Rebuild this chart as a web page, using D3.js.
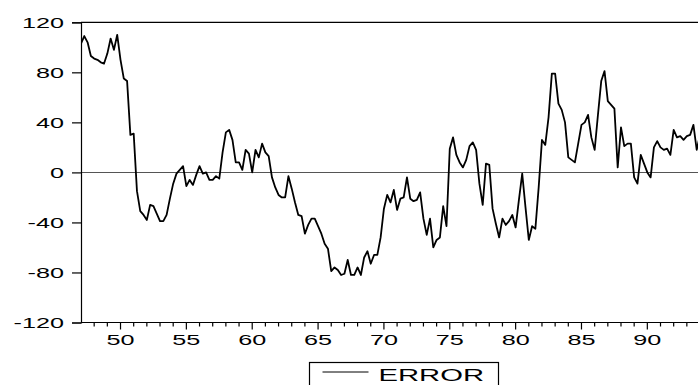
<!DOCTYPE html>
<html>
<head>
<meta charset="utf-8">
<script src="https://cdn.jsdelivr.net/npm/d3@7"></script>
<style>
  body { margin: 0; background: #fff; }
  svg { display: block; }
  text { font-family: Arial, "Liberation Sans", Helvetica, sans-serif; fill: #000; }
</style>
</head>
<body>
<div id="chart"></div>
<script>
// quarterly observations, 1947Q1 onward
const startYear = 1947;
const error1940s = [103, 109, 104, 93, 91, 90, 88, 87, 95, 107, 98, 110];
const error1950s = [90, 75, 73, 30, 31, -15, -31, -34, -38, -26,
                    -27, -33, -39, -39, -34, -21, -9, -1, 2, 5,
                    -11, -6, -10, -2, 5, -1, 0, -6, -6, -3,
                    -5, 16, 32, 34, 26, 8, 8, 2, 18, 15];
const error1960s = [0, 18, 12, 23, 16, 13, -4, -12, -18, -20,
                    -20, -3, -13, -24, -34, -35, -49, -42, -37, -37,
                    -43, -49, -57, -61, -79, -76, -78, -82, -81, -70,
                    -82, -82, -76, -82, -68, -63, -73, -66, -66, -52];
const error1970s = [-29, -18, -24, -14, -30, -21, -20, -4, -21, -23,
                    -22, -16, -37, -50, -37, -60, -54, -52, -27, -43,
                    19, 28, 14, 8, 4, 10, 21, 24, 18, -9,
                    -26, 7, 6, -29, -41, -52, -37, -42, -39, -34];
const error1980s = [-44, -22, -1, -28, -54, -43, -45, -12, 26, 22,
                    44, 79, 79, 55, 50, 40, 12, 10, 8, 23,
                    38, 40, 46, 28, 18, 46, 73, 81, 57, 54,
                    51, 4, 36, 21, 23, 23, -4, -9, 14, 7];
const error1990s = [0, -4, 20, 25, 20, 18, 19, 14, 34, 28, 29, 26, 29, 30, 38, 18, 30];

const yTicks = [-120, -80, -40, 0, 40, 80, 120];
const xMajorTicks = [1950, 1955, 1960, 1965, 1970, 1975, 1980, 1985, 1990];
const seriesName = 'ERROR';

const errorValues = [].concat(error1940s, error1950s, error1960s, error1970s, error1980s, error1990s);
const data = errorValues.map((v, i) => ({ t: startYear + i / 4, v: v }));

const width = 698;
const height = 385;
const margin = {top: 22, left: 81, bottom: 63};
const plotRight = 706.6;   // frame runs past the window edge
const stretch = 1.68;      // wide lettering

const svg = d3.select('#chart').append('svg')
    .attr('width', width)
    .attr('height', height);

const x = d3.scaleLinear()
    .domain([1947, 1994.5])
    .range([margin.left, plotRight]);

const y = d3.scaleLinear()
    .domain([-120, 120])
    .range([height - margin.bottom + 0.5, margin.top + 0.3]);

svg.append('defs').append('clipPath')
    .attr('id', 'plot-clip')
  .append('rect')
    .attr('x', margin.left)
    .attr('y', y(120) - 2)
    .attr('width', plotRight - margin.left)
    .attr('height', y(-120) - y(120) + 4);

// zero line
svg.append('line')
    .attr('x1', margin.left).attr('x2', width)
    .attr('y1', Math.round(y(0)) + 0.5).attr('y2', Math.round(y(0)) + 0.5)
    .attr('stroke', '#555')
    .attr('stroke-width', 1.2);

// frame top
svg.append('line')
    .attr('x1', margin.left).attr('x2', width)
    .attr('y1', y(120)).attr('y2', y(120))
    .attr('stroke', '#000')
    .attr('stroke-width', 1.2);

// y axis
const yAxis = svg.append('g')
    .attr('transform', `translate(${margin.left},0)`)
    .call(d3.axisLeft(y).tickValues(yTicks).tickSize(9).tickPadding(0).tickFormat(d3.format('d')));
yAxis.select('.domain').attr('stroke', '#000').attr('stroke-width', 1.2);
yAxis.selectAll('.tick line').attr('stroke', '#000').attr('stroke-width', 1.2);
yAxis.selectAll('.tick text')
    .attr('x', 0)
    .attr('dy', null)
    .attr('dominant-baseline', 'central')
    .attr('font-size', 15)
    .attr('text-anchor', 'end')
    .attr('transform', `translate(-17,0) scale(${stretch},1)`)
    .text(d => d);

// x axis: yearly minor ticks, labelled every five years
const years = d3.range(1948, 1995);
const xAxisG = svg.append('g')
    .attr('transform', `translate(0,${y(-120)})`);
xAxisG.append('line')
    .attr('x1', margin.left).attr('x2', width)
    .attr('stroke', '#000').attr('stroke-width', 1.2);
xAxisG.selectAll('line.minor')
  .data(years)
  .join('line')
    .attr('class', 'minor')
    .attr('x1', d => x(d)).attr('x2', d => x(d))
    .attr('y1', 0)
    .attr('y2', d => xMajorTicks.includes(d) ? 7 : 4)
    .attr('stroke', '#000')
    .attr('stroke-width', 1.2);
xAxisG.selectAll('text')
  .data(xMajorTicks)
  .join('text')
    .attr('font-size', 15)
    .attr('text-anchor', 'middle')
    .attr('transform', d => `translate(${x(d)},22.5) scale(${stretch},1)`)
    .text(d => String(d).slice(2));

// series line
svg.append('path')
    .datum(data)
    .attr('clip-path', 'url(#plot-clip)')
    .attr('fill', 'none')
    .attr('stroke', '#000')
    .attr('stroke-width', 1.8)
    .attr('stroke-linejoin', 'round')
    .attr('d', d3.line().x(d => x(d.t)).y(d => y(d.v)));

// legend
const legend = svg.append('g').attr('transform', 'translate(309.5,362.5)');
legend.append('rect')
    .attr('width', 189).attr('height', 30)
    .attr('fill', '#fff').attr('stroke', '#000').attr('stroke-width', 1.2);
legend.append('line')
    .attr('x1', 13).attr('x2', 59)
    .attr('y1', 9.5).attr('y2', 9.5)
    .attr('stroke', '#000').attr('stroke-width', 1);
legend.append('text')
    .attr('font-size', 17)
    .attr('transform', `translate(69,18.5) scale(1.72,1)`)
    .text(seriesName);
</script>
</body>
</html>
